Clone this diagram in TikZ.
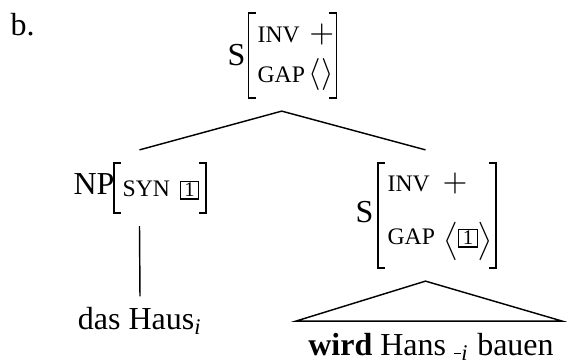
\documentclass[tikz,border=0pt]{standalone}
\usepackage{amsmath}
\usepackage{fontspec}
\setmainfont{Liberation Serif}
\usetikzlibrary{fit}
\newcommand{\sclab}[1]{{\fontsize{7.4}{8}\selectfont #1}}
\newcommand{\tagone}{{\setlength{\fboxsep}{0.4pt}\setlength{\fboxrule}{0.4pt}\fbox{\makebox[4.6pt]{\fontsize{6.5}{6.5}\selectfont 1}}}}
\newcommand{\subi}{$_{\textit{i}}$}
\begin{document}
\begin{tikzpicture}[x=0.3125pt,y=-0.3125pt,
  txt/.style={inner sep=0pt, font=\fontsize{10}{12}\selectfont},
  brk/.style={line width=0.5pt},
  fitbox/.style={inner xsep=0pt, inner ysep=3.9pt},
  branch/.style={line width=0.45pt}]
\useasboundingbox (0,0) rectangle (567,360);

\node[txt, anchor=base west] (blab) at (10,35) {b.};

% top S
\node[txt, anchor=base west] (tS) at (227,66) {S};
\node[txt, anchor=base west] (tinv) at (257,43) {\sclab{INV}\hspace{3pt}$+$};
\node[txt, anchor=base west] (tgap) at (257,83) {\sclab{GAP}\hspace{1.2pt}$\langle\rangle$};
\draw[brk] (256,13) -- (248.5,13) -- (248.5,98) -- (256,98);
\draw[brk] (329,13) -- (336.5,13) -- (336.5,98) -- (329,98);
\coordinate (tnw) at (248.5,13);
\coordinate (tse) at (336.5,98);
\node[fitbox, fit={(tS) (tnw) (tse)}] (top) {};

% NP
\node[txt, anchor=base west] (npl) at (73,195) {NP};
\node[txt, anchor=base west] (npsyn) at (122,197) {\sclab{SYN}\hspace{3pt}\tagone};
\draw[brk] (121,163) -- (114,163) -- (114,213) -- (121,213);
\draw[brk] (199,163) -- (206,163) -- (206,213) -- (199,213);
\coordinate (nnw) at (114,163);
\coordinate (nse) at (206,213);
\node[fitbox, fit={(npl) (nnw) (nse)}] (np) {};

% right S
\node[txt, anchor=base west] (rsl) at (355,223) {S};
\node[txt, anchor=base west] (rinv) at (387,192) {\sclab{INV}\hspace{4pt}$+$};
\node[txt, anchor=base west] (rgap) at (387,245) {\sclab{GAP}\hspace{2.5pt}\raisebox{-1.5pt}{$\big\langle$}\tagone\raisebox{-1.5pt}{$\big\rangle$}};
\draw[brk] (385,163) -- (378,163) -- (378,268) -- (385,268);
\draw[brk] (489,163) -- (496,163) -- (496,268) -- (489,268);
\coordinate (rnw) at (378,163);
\coordinate (rse) at (496,268);
\node[fitbox, fit={(rsl) (rnw) (rse)}] (rs) {};

% leaves
\node[txt, anchor=base, inner ysep=3.4pt] (dh) at (140,330) {das Haus\subi};
\node[txt, anchor=base, inner ysep=3.6pt] (wh) at (431,355.5) {\textbf{wird} Hans \rule[0.5pt]{2.3pt}{0.4pt}\subi{} bauen};

% connectors
\draw[branch] (np.north) -- (top.south) -- (rs.north);
\draw[branch] (np.south) -- (dh.north);
\draw[branch] ([xshift=-3.7pt]wh.north west) -- (rs.south) -- ([xshift=2.5pt]wh.north east) -- cycle;
\end{tikzpicture}
\end{document}
